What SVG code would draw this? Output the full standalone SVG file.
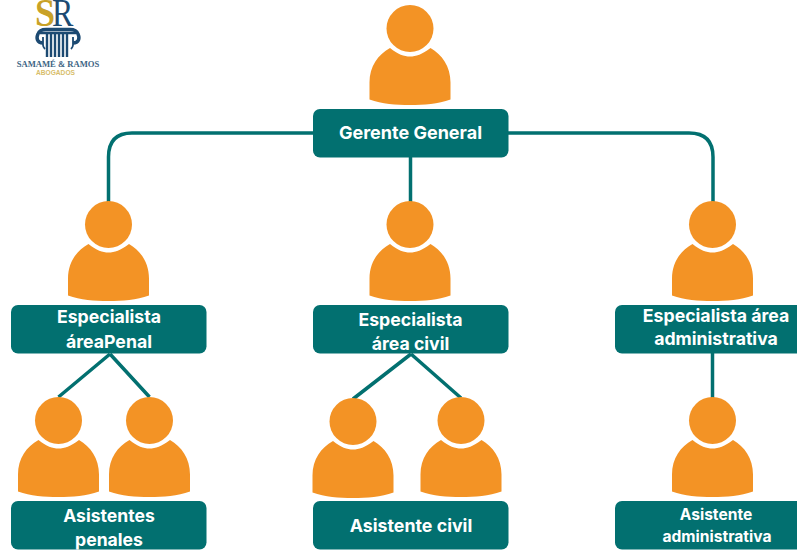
<svg xmlns="http://www.w3.org/2000/svg" width="797" height="550" viewBox="0 0 797 550">
<style>
.box{fill:#027070}
.t{font-family:"Inter","Liberation Sans",sans-serif;font-weight:700;fill:#fff;text-anchor:middle}
.c{fill:none;stroke:#027070;stroke-width:3.5}
.p{fill:#f39325}
</style>
<defs>
<g id="person">
<circle class="p" cx="0" cy="0" r="23.5"/>
<path class="p" d="M-20 19.500C-12 26-6 28 0 28S12 26 20.500 19.500C32 26 40.500 38 40.500 54V71C28 75.500 14 76.500 0 76.500S-28 75.500-40.500 71V54C-40.500 38-32 26-20 19.500Z"/>
</g>
</defs>
<rect width="797" height="550" fill="#fff"/>
<g id="logo">
<text transform="translate(35 26) scale(.9 1)" font-family="Liberation Serif,serif" font-size="40" font-weight="700" fill="#c9a227">S</text>
<text transform="translate(52 26) scale(.8 1)" font-family="Liberation Serif,serif" font-size="40" fill="#1c4a72">R</text>
<path d="M43 43C37 43 36 38 38 34C39 31 42 29.500 46 29.500H70C74 29.500 77 31 78 34C80 38 79 43 73 43" fill="none" stroke="#1c4a72" stroke-width="3.400"/>
<path d="M43 37V45C43 47 44 48 45 49M73 37V45C73 47 72 48 71 49" fill="none" stroke="#1c4a72" stroke-width="1.800"/>
<path d="M40 33H76" fill="none" stroke="#1c4a72" stroke-width="2.500"/>
<path d="M47 34V57M51 34V57M55 34V57M59 34V57M63 34V57M67 34V57" fill="none" stroke="#1c4a72" stroke-width="2.400"/>
<text x="58" y="67" font-family="Liberation Serif,serif" font-size="8.600" font-weight="700" fill="#3d6484" text-anchor="middle">SAMAMÉ &amp; RAMOS</text>
<text x="55.500" y="74.500" font-family="Liberation Sans,sans-serif" font-size="6.600" font-weight="700" fill="#d8bd6a" text-anchor="middle">ABOGADOS</text>
</g>
<g id="connectors">
<path class="c" d="M313 133H132Q108.500 133 108.500 157V205"/>
<path class="c" d="M508 133H689Q713 133 713 157V205"/>
<path class="c" d="M410.500 157V205"/>
<path class="c" d="M110 354L58.500 397M110 354L149.500 397"/>
<path class="c" d="M411 354L353 399M411 354L461 398"/>
<path class="c" d="M712.500 353V398"/>
</g>
<g id="n-gerente"><use href="#person" x="410" y="28.500"/><rect class="box" x="313" y="109" width="195.500" height="48.500" rx="7"/><text class="t" x="410.500" y="139" font-size="18">Gerente General</text></g>
<g id="n-penal"><use href="#person" x="108.500" y="224.500"/><rect class="box" x="11" y="305" width="195.500" height="48.500" rx="7"/><text class="t" font-size="17.700"><tspan x="109" y="323">Especialista</tspan><tspan x="109" y="348">áreaPenal</tspan></text></g>
<g id="n-civil"><use href="#person" x="410" y="224.500"/><rect class="box" x="313" y="305" width="195.500" height="48.500" rx="7"/><text class="t" font-size="17.700"><tspan x="410.500" y="326">Especialista</tspan><tspan x="410.500" y="350">área civil</tspan></text></g>
<g id="n-admin"><use href="#person" x="712.500" y="224.500"/><rect class="box" x="615" y="305" width="195.500" height="48.500" rx="7"/><text class="t" font-size="17.700"><tspan x="716" y="322">Especialista área</tspan><tspan x="716" y="345">administrativa</tspan></text></g>
<g id="n-as1"><use href="#person" x="58.500" y="420.500"/></g>
<g id="n-as2"><use href="#person" x="149.500" y="420.500"/></g>
<g id="n-aspenal"><rect class="box" x="11" y="501" width="195.500" height="48.500" rx="7"/><text class="t" font-size="17.600"><tspan x="109" y="522">Asistentes</tspan><tspan x="109" y="546">penales</tspan></text></g>
<g id="n-as3"><use href="#person" x="353" y="421.500"/></g>
<g id="n-as4"><use href="#person" x="461" y="420.500"/></g>
<g id="n-ascivil"><rect class="box" x="313" y="501" width="195.500" height="48.500" rx="7"/><text class="t" x="411" y="532" font-size="17.800">Asistente civil</text></g>
<g id="n-as5"><use href="#person" x="712.500" y="420.500"/></g>
<g id="n-asadmin"><rect class="box" x="615" y="501" width="195.500" height="48.500" rx="7"/><text class="t" font-size="15.600"><tspan x="716" y="520">Asistente</tspan><tspan x="717" y="542">administrativa</tspan></text></g>
</svg>
